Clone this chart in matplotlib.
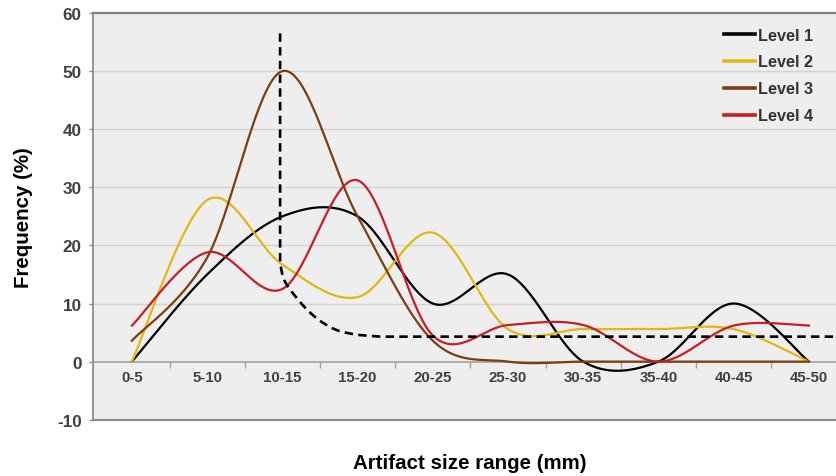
import numpy as np
import matplotlib
matplotlib.use('Agg')
import matplotlib.pyplot as plt

plt.rcParams['font.family'] = ['Liberation Sans', 'DejaVu Sans']
plt.rcParams['font.weight'] = 'bold'
plt.rcParams['axes.unicode_minus'] = False

#========================================================
# data

size_ranges = ['0-5', '5-10', '10-15', '15-20', '20-25',
               '25-30', '30-35', '35-40', '40-45', '45-50']

level_1 = [0, 15, 25, 25, 10, 15, 0, 0, 10, 0]
level_2 = [0, 27.8, 16.7, 11.1, 22.2, 5.6, 5.6, 5.6, 5.6, 0]
level_3 = [3.6, 17.9, 50, 25, 3.6, 0, 0, 0, 0, 0]
level_4 = [6.2, 18.8, 12.5, 31.2, 4.5, 6.3, 6.3, 0, 6.2, 6.2]

levels = ['Level 1', 'Level 2', 'Level 3', 'Level 4']
level_colors = ['#000000', '#E3B712', '#7A3E10', '#C81E23']

# dashed reference curve (category index, value)
ref_x = [1.97, 1.97, 2.03, 2.2, 2.38, 2.55, 2.75, 3.0, 3.3, 9.5]
ref_y = [56.5, 17.0, 13.9, 10.8, 8.3, 6.6, 5.3, 4.6, 4.3, 4.3]

#========================================================

def catmull_rom(xs, ys, n=40):
    # same kind of smoothing as a spreadsheet "smoothed line"
    pts = np.column_stack([xs, ys]).astype(float)
    p = np.vstack([pts[0], pts, pts[-1]])
    t = np.linspace(0, 1, n, endpoint=False)[:, None]
    out = []
    for i in range(1, len(p) - 2):
        p0, p1, p2, p3 = p[i - 1], p[i], p[i + 1], p[i + 2]
        seg = 0.5 * (2 * p1 + (-p0 + p2) * t
                     + (2 * p0 - 5 * p1 + 4 * p2 - p3) * t ** 2
                     + (-p0 + 3 * p1 - 3 * p2 + p3) * t ** 3)
        out.append(seg)
    out.append(pts[-1][None])
    return np.vstack(out)


fig = plt.figure(figsize=(8.36, 4.77), dpi=100)
ax = fig.add_axes([0.111, 0.118, 0.889, 0.8526])
ax.set_facecolor('#EEEEEE')

x = np.arange(len(size_ranges))

# grid
for g in [10, 20, 30, 40, 50]:
    ax.axhline(g, color='#D2D2D2', lw=1.0, zorder=1)
ax.axhline(-10, color='#8C8C8C', lw=1.5, zorder=1, clip_on=False)

# level curves
for vals, name, c in zip([level_1, level_2, level_3, level_4], levels, level_colors):
    s = catmull_rom(x, vals)
    ax.plot(s[:, 0], s[:, 1], color=c, lw=1.6, label=name, zorder=3)

# dashed curve: straight drop, smoothed bend, then flat
bend = catmull_rom(ref_x[1:8], ref_y[1:8], n=20)
dx = np.concatenate([[ref_x[0]], bend[:, 0], ref_x[8:]])
dy = np.concatenate([[ref_y[0]], bend[:, 1], ref_y[8:]])
ax.plot(dx, dy, color='black', lw=1.9, dashes=(3.2, 2.0), zorder=4)

ax.set_xlim(-0.52, 9.36)
ax.set_ylim(-10, 60)

# spines
ax.spines['right'].set_visible(False)
ax.spines['top'].set_color('#7F7F7F')
ax.spines['top'].set_linewidth(1.6)
ax.spines['left'].set_color('#8C8C8C')
ax.spines['left'].set_linewidth(1.3)
ax.spines['bottom'].set_position(('data', 0))
ax.spines['bottom'].set_color('#A0A0A0')
ax.spines['bottom'].set_linewidth(1.2)

# ticks
ax.set_xticks(x)
ax.set_xticklabels(size_ranges)
ax.set_xticks(x[:-1] + 0.5, minor=True)
ax.tick_params(axis='x', which='major', length=0, pad=6, labelsize=10.8,
               labelcolor='#404040')
ax.tick_params(axis='x', which='minor', length=4, width=1, color='#A0A0A0',
               direction='out')
ax.set_yticks(np.arange(-10, 61, 10))
ax.tick_params(axis='y', length=3, width=1, color='#8C8C8C', pad=5,
               labelsize=12.3, labelcolor='#404040')

ax.set_ylabel('Frequency (%)', fontsize=14.8, fontweight='bold')
ax.yaxis.set_label_coords(-0.080, 0.5)
fig.text(0.562, 0.0168, 'Artifact size range (mm)', fontsize=14.8,
         fontweight='bold', ha='center', va='baseline')

leg = ax.legend(loc='upper left', bbox_to_anchor=(0.866, 0.940),
                bbox_transform=fig.transFigure, frameon=False,
                borderpad=0, borderaxespad=0, handlelength=1.9,
                handletextpad=0.2, labelspacing=0.73,
                prop={'size': 11.7, 'weight': 'bold'})
for h in leg.get_lines():
    h.set_linewidth(2.6)
for t in leg.get_texts():
    t.set_color('#333333')

fig.savefig('out.png', dpi=100)
